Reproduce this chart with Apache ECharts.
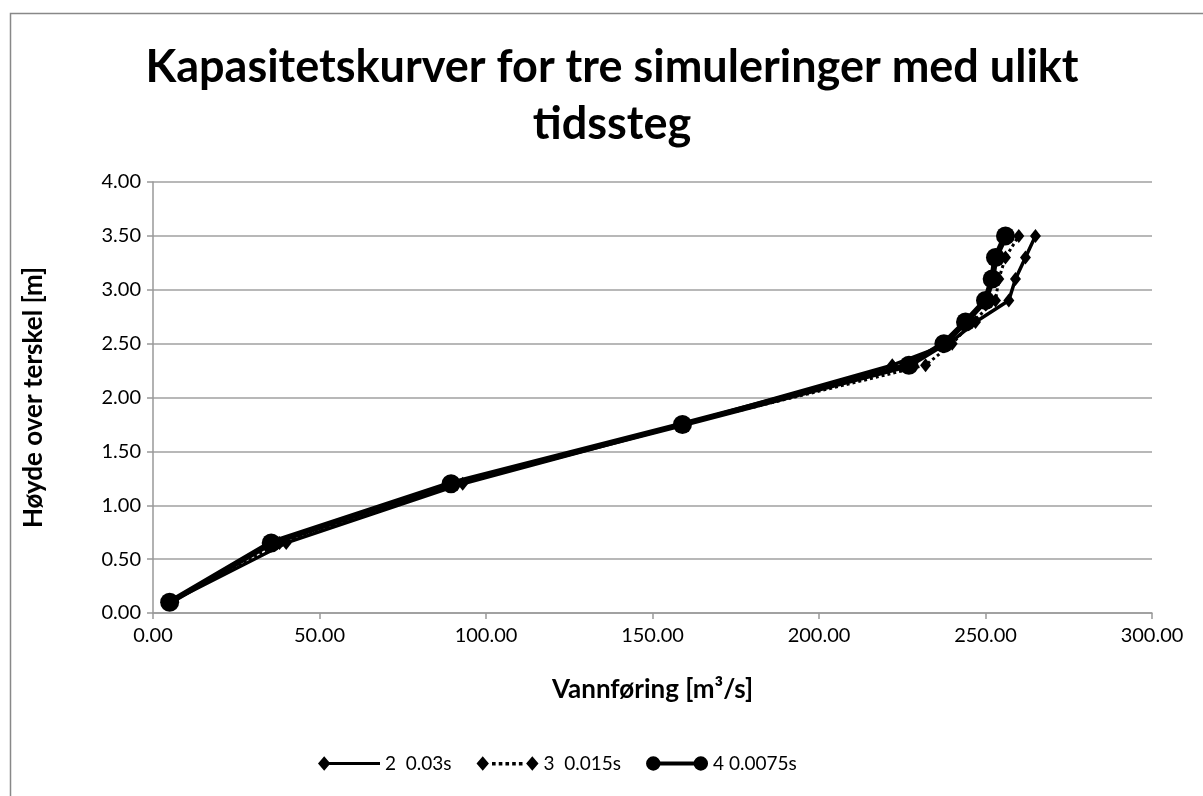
<!DOCTYPE html>
<html>
<head>
<meta charset="utf-8">
<script src="https://cdn.jsdelivr.net/npm/echarts@6/dist/echarts.min.js"></script>
<style>
  html, body { margin: 0; padding: 0; background: #fff; }
  #chart { width: 1203px; height: 796px; }
</style>
</head>
<body>
<div id="chart"></div>
<script>
// heights over the weir [m], same for all three runs
const heights = [0.10, 0.65, 1.20, 1.75, 2.30, 2.50, 2.70, 2.90, 3.10, 3.30, 3.50];
// discharge [m3/s] per simulation
const flow2 = [5, 40, 93, 159, 222, 239, 247, 257, 259, 262, 265];
const flow3 = [5, 38, 91, 159, 232, 240, 246, 253, 254, 256, 260];
const flow4 = [5, 35.5, 89.5, 159, 227, 237.5, 244, 250, 252, 253, 256];
const seriesNames = ['2  0.03s', '3  0.015s', '4 0.0075s'];

const font = 'Lato, "Liberation Sans", sans-serif';

function pairs(xs) {
    return xs.map((x, i) => [x, heights[i]]);
}

const iconDiamondLine = 'path://M0 7 L6 0 L12 7 L6 14 Z M11 5.5 L60 5.5 L60 8.5 L11 8.5 Z';
const iconDiamondDots = 'path://M0 7 L6 0 L12 7 L6 14 Z M15 5.5 h3.5 v3.5 h-3.5 Z M21.5 5.5 h3.5 v3.5 h-3.5 Z M28 5.5 h3.5 v3.5 h-3.5 Z M34.5 5.5 h3.5 v3.5 h-3.5 Z M41 5.5 h3.5 v3.5 h-3.5 Z M48 7 L54 0 L60 7 L54 14 Z';
const iconCircleLine = 'path://M0 7 A7 7 0 0 1 14 7 A7 7 0 0 1 0 7 Z M7 5 L53 5 L53 9 L7 9 Z M46 7 A7 7 0 0 1 60 7 A7 7 0 0 1 46 7 Z';

let chart = echarts.init(document.getElementById('chart'));

let option = {
    animation: false,
    backgroundColor: '#fff',
    title: {
        text: 'Kapasitetskurver for tre simuleringer med ulikt\ntidssteg',
        left: 612,
        top: 39,
        textAlign: 'center',
        padding: 0,
        textStyle: {
            fontFamily: font,
            fontWeight: 'bold',
            fontSize: 45,
            lineHeight: 57,
            color: '#000'
        }
    },
    graphic: [{
        type: 'rect',
        left: 8,
        top: 11,
        shape: { width: 1400, height: 1000 },
        style: { fill: 'none', stroke: '#888', lineWidth: 1.5 },
        silent: true
    }],
    legend: {
        left: 313,
        top: 749,
        itemWidth: 62,
        itemHeight: 16,
        itemGap: 25,
        textStyle: { fontFamily: font, fontSize: 19, color: '#000' },
        data: [
            { name: seriesNames[0], icon: iconDiamondLine },
            { name: seriesNames[1], icon: iconDiamondDots },
            { name: seriesNames[2], icon: iconCircleLine }
        ]
    },
    grid: {
        left: 153,
        right: 51,
        top: 182,
        bottom: 183
    },
    xAxis: {
        type: 'value',
        min: 0,
        max: 300,
        interval: 50,
        name: 'Vannføring [m³/s]',
        nameLocation: 'middle',
        nameGap: 64,
        nameTextStyle: { fontFamily: font, fontWeight: 'bold', fontSize: 26, color: '#000' },
        axisLine: { lineStyle: { color: '#999', width: 1.5 } },
        axisTick: { show: true, length: 6, lineStyle: { color: '#999', width: 1.5 } },
        axisLabel: {
            fontFamily: font, fontSize: 20, color: '#000', margin: 13,
            formatter: v => v.toFixed(2)
        },
        splitLine: { show: false }
    },
    yAxis: {
        type: 'value',
        min: 0,
        max: 4,
        interval: 0.5,
        name: 'Høyde over terskel [m]',
        nameLocation: 'middle',
        nameGap: 106,
        nameTextStyle: { fontFamily: font, fontWeight: 'bold', fontSize: 26, color: '#000' },
        axisLine: { show: true, lineStyle: { color: '#999', width: 1.5 } },
        axisTick: { show: true, length: 6, lineStyle: { color: '#999', width: 1.5 } },
        axisLabel: {
            fontFamily: font, fontSize: 20, color: '#000', margin: 12,
            formatter: v => v.toFixed(2)
        },
        splitLine: { lineStyle: { color: '#a0a0a0', width: 1.5 } }
    },
    series: [
        {
            name: seriesNames[0],
            type: 'line',
            data: pairs(flow2),
            symbol: 'diamond',
            symbolSize: [11, 14],
            showAllSymbol: true,
            itemStyle: { color: '#000' },
            lineStyle: { color: '#000', width: 3.5 }
        },
        {
            name: seriesNames[1],
            type: 'line',
            data: pairs(flow3),
            symbol: 'diamond',
            symbolSize: [11, 14],
            showAllSymbol: true,
            itemStyle: { color: '#000' },
            lineStyle: { color: '#000', width: 3, type: [3, 3] }
        },
        {
            name: seriesNames[2],
            type: 'line',
            data: pairs(flow4),
            symbol: 'circle',
            symbolSize: 19,
            showAllSymbol: true,
            itemStyle: { color: '#000' },
            lineStyle: { color: '#000', width: 6 }
        }
    ]
};

chart.setOption(option);
</script>
</body>
</html>
